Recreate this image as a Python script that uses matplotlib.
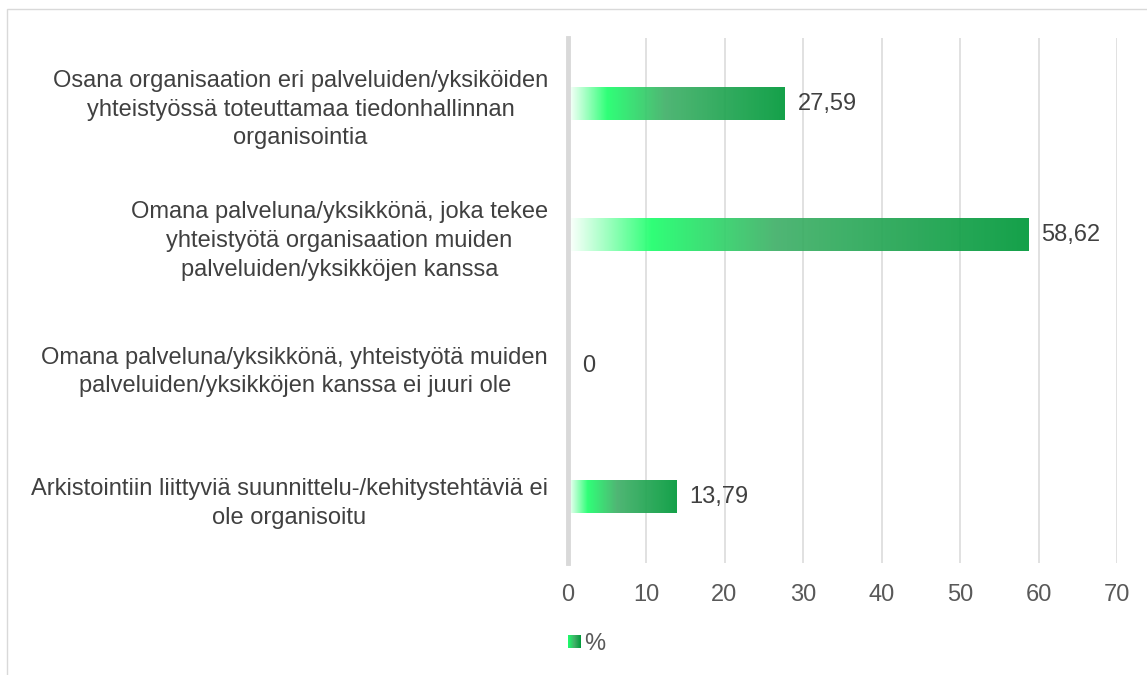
import numpy as np
import matplotlib
matplotlib.use("Agg")
import matplotlib.pyplot as plt
from matplotlib.colors import LinearSegmentedColormap
from matplotlib.patches import Rectangle
from matplotlib.legend_handler import HandlerBase
from matplotlib.image import BboxImage
from matplotlib.transforms import Bbox, TransformedBbox

plt.rcParams['font.family'] = ['Liberation Sans', 'DejaVu Sans']

# data
kategoriat = [
    "Osana organisaation eri palveluiden/yksiköiden\nyhteistyössä toteuttamaa tiedonhallinnan\norganisointia",
    "Omana palveluna/yksikkönä, joka tekee\nyhteistyötä organisaation muiden\npalveluiden/yksikköjen kanssa",
    "Omana palveluna/yksikkönä, yhteistyötä muiden\npalveluiden/yksikköjen kanssa ei juuri ole",
    "Arkistointiin liittyviä suunnittelu-/kehitystehtäviä ei\nole organisoitu",
]
arvot = [27.59, 58.62, 0, 13.79]
nimet = ["27,59", "58,62", "0", "13,79"]
xticks = [0, 10, 20, 30, 40, 50, 60, 70]

# gradientti: valkoinen -> kirkas vihreä -> tummempi vihreä
vari = LinearSegmentedColormap.from_list("vihrea", [
    (0.0, "#ffffff"),
    (0.18, "#1dff6c"),
    (0.45, "#40b068"),
    (1.0, "#00993a"),
])
grad = np.linspace(0, 1, 256).reshape(1, -1)

fig = plt.figure(figsize=(11.47, 6.75), dpi=100)
W, H = 1147, 675
ax = fig.add_axes([567.5 / W, 1 - 563 / H, (1117 - 567.5) / W, (563 - 38) / H])

# kehys
fig.patches.append(Rectangle((7 / W, -0.1), 1.2, (675 - 9) / H + 0.1, transform=fig.transFigure,
                             fill=False, edgecolor="#d9d9d9", linewidth=1.0))

y = np.arange(len(arvot))
h = 0.245
for yi, v, t in zip(y, arvot, nimet):
    if v > 0:
        ax.imshow(grad, cmap=vari, extent=[0, v, yi + h / 2, yi - h / 2], aspect="auto",
                  alpha=0.92, zorder=1, interpolation="bilinear")
    ax.text(v + 1.7 if v > 0 else 1.9, yi, t, va="center", ha="left", fontsize=17, color="#404040")

ax.set_xlim(0, 70)
ax.set_ylim(len(arvot) - 0.5, -0.5)
ax.set_xticks(xticks)
ax.set_yticks(y)
ax.set_yticklabels(kategoriat, fontsize=17, color="#404040", multialignment="center", linespacing=1.4)
ax.tick_params(axis="x", labelsize=17, labelcolor="#595959", length=0, pad=15)
ax.tick_params(axis="y", length=0, pad=14)
ax.grid(axis="x", color="#d9d9d9", linewidth=1.1, zorder=0)
ax.set_axisbelow(True)
for s in ["top", "right", "bottom"]:
    ax.spines[s].set_visible(False)
ax.spines["left"].set_color("#d9d9d9")
ax.spines["left"].set_linewidth(3.5)


class GradHandler(HandlerBase):
    def create_artists(self, legend, orig_handle, xdescent, ydescent, width, height, fontsize, trans):
        s = height * 0.75
        bb = Bbox.from_bounds(-xdescent + width - s, -ydescent + (height - s) / 2, s, s)
        img = BboxImage(TransformedBbox(bb, trans), cmap=LinearSegmentedColormap.from_list(
            "l", ["#1dff6c", "#40b068", "#00993a"]), interpolation="bilinear")
        img.set_data(grad)
        return [img]


kahva = Rectangle((0, 0), 1, 1)
fig.legend([kahva], ["%"], handler_map={Rectangle: GradHandler()}, loc="center left",
           bbox_to_anchor=(543 / W, 1 - 644 / H), frameon=False, fontsize=17,
           handlelength=0.7, handletextpad=0.15, labelcolor="#595959")

fig.savefig("out.png", dpi=100, facecolor="white")
